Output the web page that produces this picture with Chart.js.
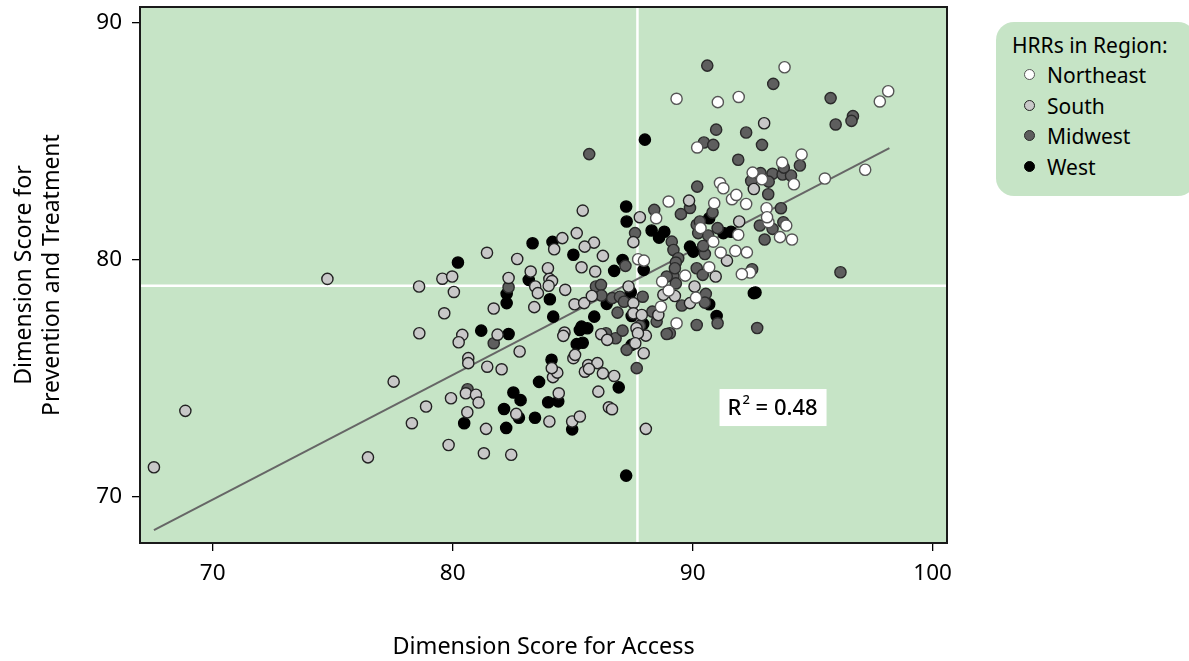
<!DOCTYPE html>
<html>
<head>
<meta charset="utf-8">
<script src="https://cdn.jsdelivr.net/npm/chart.js@4/dist/chart.umd.min.js"></script>
<style>
  body { margin: 0; background: #fff; }
  #wrap { position: relative; width: 1189px; height: 661px; }
  #legend {
    position: absolute; left: 996px; top: 22px; width: 200px; height: 174px;
    background: #c6e4c6; border-radius: 18px; font-family: 'Noto Sans', sans-serif;
    font-size: 21px; color: #000; box-sizing: border-box; padding: 8px 0 0 16px;
  }
  #legend .t { line-height: 30px; margin-bottom: 0; }
  #legend .it { line-height: 30.7px; padding-left: 12px; }
  #legend .m { display: inline-block; width: 9px; height: 9px; border-radius: 50%;
    border: 1.3px solid #222; margin-right: 12px; vertical-align: 3px; }
</style>
</head>
<body>
<div id="wrap">
  <canvas id="chart"></canvas>
  <div id="legend"></div>
</div>
<script>
const regions = ['Northeast', 'South', 'Midwest', 'West'];
const fills = ['#ffffff', '#c8c8c8', '#5e5e5e', '#000000'];
const strokes = ['#555555', '#222222', '#2a2a2a', '#000000'];

// [access, prevention] per HRR
const northeast = [
  [89.33,86.78],[93.83,88.11],[91.05,86.64],[91.92,86.86],[98.15,87.1],[97.8,86.67],
  [90.19,84.73],[94.54,84.43],[93.73,84.09],[92.5,83.67],[92.89,83.39],[94.22,83.18],
  [95.51,83.42],[97.19,83.79],[91.14,83.23],[91.28,83.01],[91.64,82.55],[91.82,82.73],
  [90.9,82.38],[92.23,82.35],[93.08,82.17],[93.16,81.58],[93.1,81.79],[93.9,81.44],
  [93.64,80.95],[94.14,80.85],[91.9,81.05],[90.33,81.33],[90.86,80.76],[91.17,80.3],
  [91.78,80.37],[92.26,80.31],[90.69,79.68],[92.39,79.46],[92.05,79.39],[89.69,79.33],
  [89.0,78.7],[90.14,78.4],[89.33,77.32],[88.48,81.75],[89.0,82.45],[87.73,80.02],
  [87.97,79.96],[88.73,79.08],[88.68,78.02]
];
const south = [
  [92.98,85.75],[92.55,82.98],[89.85,82.49],[91.94,81.61],[91.43,79.96],[90.96,79.29],
  [90.08,78.87],[89.26,78.47],[89.89,78.17],[85.42,82.07],[87.8,81.79],[87.53,80.74],
  [85.17,81.12],[84.57,80.91],[85.89,80.72],[85.5,80.55],[84.23,80.44],[86.26,80.16],
  [85.37,79.68],[85.94,79.5],[82.69,80.03],[81.43,80.29],[79.57,79.2],[79.98,79.29],
  [78.6,78.87],[80.05,78.64],[79.65,77.74],[78.61,76.9],[82.33,79.23],[83.25,79.5],
  [83.44,78.87],[83.55,78.59],[83.97,79.64],[84.03,79.19],[84.14,79.1],[84.0,78.9],
  [84.69,78.73],[83.4,78.0],[81.71,77.94],[80.4,76.83],[80.25,76.52],[81.87,76.84],
  [82.79,76.13],[80.65,75.85],[80.65,75.64],[81.44,75.49],[82.04,75.38],[85.03,75.85],
  [85.1,75.99],[84.66,76.93],[84.61,76.79],[85.08,78.12],[85.48,78.17],[85.8,78.47],
  [87.33,78.87],[87.53,78.17],[87.53,77.74],[87.88,77.67],[88.57,77.67],[87.66,77.11],
  [88.05,76.8],[87.72,76.9],[86.19,76.86],[86.44,76.62],[87.61,76.48],[87.96,76.06],
  [85.65,75.56],[86.03,75.64],[80.55,74.37],[80.97,74.31],[81.08,73.98],[79.93,74.16],
  [78.89,73.81],[78.3,73.11],[80.61,73.57],[79.83,72.19],[81.39,72.87],[81.3,71.84],
  [82.44,71.78],[82.65,73.5],[84.03,73.18],[84.42,74.37],[84.18,75.05],[84.36,75.24],
  [84.13,75.43],[84.98,73.18],[85.3,73.39],[85.51,75.28],[85.68,75.4],[86.26,75.21],
  [86.73,75.1],[86.07,74.44],[86.51,73.78],[86.64,73.7],[88.05,72.87],[77.54,74.86],
  [68.86,73.63],[67.55,71.25],[76.47,71.67],[74.78,79.19],[88.78,78.52]
];
const midwest = [
  [85.69,84.45],[90.61,88.18],[93.36,87.41],[95.75,86.81],[96.68,86.05],[96.62,85.85],
  [95.96,85.7],[90.98,85.48],[92.23,85.36],[92.89,84.84],[90.47,84.94],[90.86,84.84],
  [91.9,84.21],[94.47,83.97],[93.33,83.62],[93.75,83.59],[94.1,83.55],[93.8,83.88],
  [92.83,83.65],[92.44,83.32],[93.17,83.29],[90.19,83.08],[93.15,82.76],[89.89,82.18],
  [89.51,81.92],[90.83,81.99],[93.68,82.17],[92.8,81.44],[93.33,81.3],[93.78,81.58],
  [93.0,80.85],[91.04,81.33],[90.17,81.47],[90.3,81.61],[90.23,81.12],[90.65,81.02],
  [89.13,80.76],[89.2,80.41],[90.51,80.24],[90.44,80.58],[89.4,80.06],[89.3,79.88],
  [90.17,79.64],[90.42,79.36],[92.48,79.6],[96.16,79.47],[89.2,79.29],[89.3,79.0],
  [90.55,78.56],[90.51,78.19],[89.55,78.07],[91.04,77.32],[90.17,77.25],[92.69,77.12],
  [89.05,76.9],[88.4,82.1],[87.6,81.12],[87.2,79.74],[82.33,78.84],[81.71,76.48],
  [85.97,78.87],[86.18,78.94],[86.2,78.49],[86.65,78.38],[86.97,78.44],[87.14,78.23],
  [87.92,78.44],[86.87,77.77],[87.8,77.22],[88.32,77.81],[88.5,77.39],[88.92,76.87],
  [86.39,76.9],[86.79,76.69],[87.08,77.01],[87.25,76.2],[87.67,75.43],[80.62,74.54],
  [88.92,79.29],[89.26,79.64]
];
const west = [
  [88.01,85.06],[90.69,81.75],[91.28,81.12],[91.6,81.18],[89.89,80.55],[90.03,80.34],
  [92.55,78.59],[92.62,78.62],[90.69,78.12],[91.0,77.63],[87.23,82.24],[87.25,81.61],
  [88.29,81.23],[88.82,81.18],[88.6,80.93],[84.16,80.75],[83.33,80.69],[85.03,80.21],
  [87.08,79.99],[86.73,79.53],[87.96,79.57],[80.22,79.88],[82.25,78.56],[82.25,78.17],
  [83.17,79.15],[84.05,78.33],[84.19,77.6],[81.19,77.01],[82.33,76.87],[84.12,75.78],
  [85.37,77.18],[85.61,77.11],[85.3,77.04],[85.17,76.44],[85.42,76.5],[85.9,77.6],
  [86.42,78.14],[87.42,78.63],[87.46,77.63],[87.94,77.29],[87.46,76.41],[80.48,73.11],
  [82.53,74.4],[82.83,74.08],[82.14,73.71],[82.76,73.34],[82.23,72.91],[83.43,73.34],
  [83.6,74.85],[83.98,73.99],[84.4,74.03],[84.98,72.85],[86.92,74.62],[87.23,70.9]
];

const fitX = [67.55, 98.2];
const fitY = [68.6, 84.7];
const meanAccess = 87.7;
const meanPrevention = 78.9;
const xTicks = [70, 80, 90, 100];
const yTicks = [70, 80, 90];
const xRange = [66.97, 100.6];
const yRange = [68.06, 90.65];
const rSquared = '0.48';

const FONT = "'Noto Sans', sans-serif";
const toPts = arr => arr.map(p => ({ x: p[0], y: p[1] }));

const datasets = [];
[northeast, south, midwest, west].forEach((arr, i) => {
  datasets.push({
    label: regions[i],
    data: toPts(arr),
    backgroundColor: fills[i],
    borderColor: strokes[i],
    borderWidth: 1.4,
    pointRadius: 5.6,
    order: 1
  });
});
datasets.push({
  type: 'line', label: 'fit',
  data: fitX.map((x, i) => ({ x: x, y: fitY[i] })),
  borderColor: '#666666', borderWidth: 2, pointRadius: 0, order: 2
});
datasets.push({
  type: 'line', label: 'meanX',
  data: [{ x: meanAccess, y: yRange[0] }, { x: meanAccess, y: yRange[1] }],
  borderColor: '#ffffff', borderWidth: 2.5, pointRadius: 0, order: 3
});
datasets.push({
  type: 'line', label: 'meanY',
  data: [{ x: xRange[0], y: meanPrevention }, { x: xRange[1], y: meanPrevention }],
  borderColor: '#ffffff', borderWidth: 2.5, pointRadius: 0, order: 3
});

const plotDeco = {
  id: 'plotDeco',
  beforeDatasetsDraw(chart) {
    const { ctx, chartArea: a } = chart;
    ctx.save();
    ctx.fillStyle = '#c6e4c6';
    ctx.fillRect(a.left, a.top, a.right - a.left, a.bottom - a.top);
    ctx.restore();
  },
  afterDatasetsDraw(chart) {
    const { ctx, chartArea: a, scales } = chart;
    ctx.save();
    ctx.strokeStyle = '#1a1a1a';
    ctx.lineWidth = 2;
    ctx.strokeRect(a.left, a.top, a.right - a.left, a.bottom - a.top);
    // R squared box
    const cx = scales.x.getPixelForValue(93.33);
    const cy = scales.y.getPixelForValue(73.79);
    ctx.fillStyle = '#ffffff';
    ctx.fillRect(cx - 53, cy - 18, 107, 37);
    ctx.fillStyle = '#000';
    ctx.textBaseline = 'alphabetic';
    ctx.font = '500 22px ' + FONT;
    let x = cx - 45;
    ctx.fillText('R', x, cy + 8);
    x += ctx.measureText('R').width;
    ctx.font = '500 13px ' + FONT;
    ctx.fillText('2', x + 1, cy - 3);
    x += ctx.measureText('2').width + 1;
    ctx.font = '500 22px ' + FONT;
    ctx.fillText(' = ' + rSquared, x, cy + 8);
    ctx.restore();
  }
};

new Chart(document.getElementById('chart'), {
  type: 'scatter',
  data: { datasets: datasets },
  options: {
    responsive: true,
    maintainAspectRatio: false,
    animation: false,
    layout: { padding: { top: 7, right: 242, left: 0, bottom: 0 } },
    plugins: { legend: { display: false }, tooltip: { enabled: false } },
    scales: {
      x: {
        type: 'linear', min: xRange[0], max: xRange[1],
        afterBuildTicks: s => { s.ticks = xTicks.map(v => ({ value: v })); },
        afterFit: s => { s.height = 118; s.paddingLeft = 0; s.paddingRight = 0; },
        grid: { drawOnChartArea: false, drawTicks: true, tickLength: 8, color: '#000', lineWidth: 1.3 },
        border: { display: false },
        ticks: { color: '#000', padding: 9, font: { family: FONT, size: 22.5 } },
        title: { display: true, text: 'Dimension Score for Access', color: '#000',
          padding: { top: 0, bottom: 0 }, font: { family: FONT, size: 23.4 } }
      },
      y: {
        type: 'linear', min: yRange[0], max: yRange[1],
        afterBuildTicks: s => { s.ticks = yTicks.map(v => ({ value: v })); },
        afterFit: s => { s.width = 140; s.paddingTop = 0; s.paddingBottom = 0; },
        grid: { drawOnChartArea: false, drawTicks: true, tickLength: 8, color: '#000', lineWidth: 1.3 },
        border: { display: false },
        ticks: { color: '#000', padding: 10, font: { family: FONT, size: 22.5 } },
        title: { display: true, text: ['Dimension Score for', 'Prevention and Treatment'], color: '#000',
          padding: { top: 10, bottom: 0 }, font: { family: FONT, size: 23, lineHeight: 1.22 } }
      }
    }
  },
  plugins: [plotDeco]
});

// html legend
const lg = document.getElementById('legend');
let html = '<div class="t">HRRs in Region:</div>';
regions.forEach((r, i) => {
  html += '<div class="it"><span class="m" style="background:' + fills[i] + ';border-color:' + strokes[i] + '"></span>' + r + '</div>';
});
lg.innerHTML = html;
</script>
</body>
</html>
